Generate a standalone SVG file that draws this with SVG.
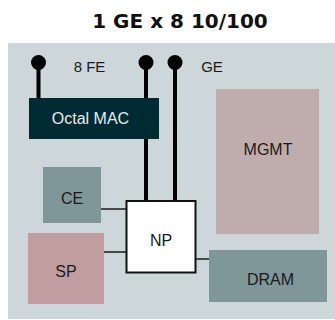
<svg xmlns="http://www.w3.org/2000/svg" width="335" height="320" viewBox="0 0 335 320">
  <style>
    .lbl { font-family: "Liberation Sans", Arial, sans-serif; font-size: 16px; fill: #1a1a1a; text-anchor: middle; }
    .pinlbl { font-family: "Liberation Sans", Arial, sans-serif; font-size: 15px; fill: #1a1a1a; text-anchor: middle; }
    .title { font-family: "DejaVu Sans", sans-serif; font-weight: bold; font-size: 20px; fill: #111111; text-anchor: middle; }
    .thick { stroke: #000000; stroke-width: 4; fill: none; }
    .thin { stroke: #1a1a1a; stroke-width: 1.5; fill: none; }
    .pin { fill: #000000; }
  </style>
  <rect x="0" y="0" width="335" height="320" fill="#ffffff"/>
  <text class="title" x="180" y="28">1 GE x 8 10/100</text>
  <rect id="board" x="8" y="43" width="327" height="276" fill="#cdd6d9"/>

  <g id="connectors">
    <line class="thick" x1="38.5" y1="62.5" x2="38.5" y2="98"/>
    <line class="thick" x1="146" y1="62.5" x2="146" y2="201"/>
    <line class="thick" x1="175" y1="62.5" x2="175" y2="201"/>
    <circle class="pin" cx="38.5" cy="62.5" r="7.5"/>
    <circle class="pin" cx="146" cy="62.5" r="7.5"/>
    <circle class="pin" cx="175" cy="62.5" r="7.5"/>
    <line class="thin" x1="101" y1="209" x2="126" y2="209"/>
    <line class="thin" x1="104" y1="252" x2="126" y2="252"/>
    <line class="thin" x1="196" y1="259" x2="209" y2="259"/>
  </g>

  <text class="pinlbl" x="89.5" y="71.5">8 FE</text>
  <text class="pinlbl" x="212" y="72">GE</text>

  <g id="octal-mac">
    <rect x="29" y="98" width="130" height="41" fill="#002b33"/>
    <text class="lbl" x="90.5" y="123.5" style="fill:#e8ecec">Octal MAC</text>
  </g>
  <g id="mgmt">
    <rect x="216" y="89" width="103" height="145" fill="#bfadad"/>
    <text class="lbl" x="268" y="155">MGMT</text>
  </g>
  <g id="ce">
    <rect x="43" y="167" width="58" height="56" fill="#80979a"/>
    <text class="lbl" x="72" y="203.5">CE</text>
  </g>
  <g id="sp">
    <rect x="28" y="233" width="76" height="71" fill="#c29da0"/>
    <text class="lbl" x="66" y="277">SP</text>
  </g>
  <g id="np">
    <rect x="126.5" y="201" width="69" height="71.5" fill="#ffffff" stroke="#111111" stroke-width="2"/>
    <text class="lbl" x="161" y="246">NP</text>
  </g>
  <g id="dram">
    <rect x="209" y="250" width="118" height="52" fill="#80979a"/>
    <text class="lbl" x="270.5" y="285">DRAM</text>
  </g>
</svg>
